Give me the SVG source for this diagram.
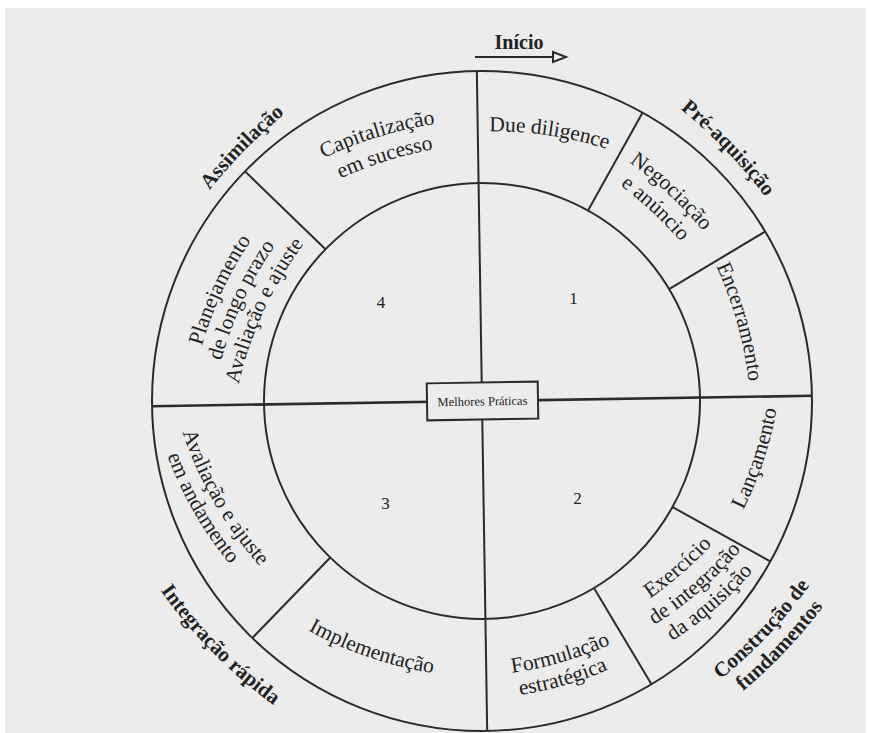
<svg xmlns="http://www.w3.org/2000/svg" width="869" height="733" viewBox="0 0 869 733">
<defs>
<style>
.ln{stroke:#2b2b2b;stroke-width:2;fill:none}
.t{font-family:"Liberation Serif","Times New Roman",serif;font-size:21.5px;fill:#222;text-anchor:middle}
.b{font-family:"Liberation Serif","Times New Roman",serif;font-size:21px;font-weight:bold;fill:#222;text-anchor:middle}
.n{font-family:"Liberation Serif","Times New Roman",serif;font-size:17px;fill:#222;text-anchor:middle}
.s{font-family:"Liberation Serif","Times New Roman",serif;font-size:12.5px;fill:#222;text-anchor:middle}
</style>
<path id="fr" d="M-244.3,88.9 A380,380 0 0 1 244.3,88.9"/>
<path id="sm" d="M-244.3,-88.9 A380,380 0 0 0 244.3,-88.9"/>
<path id="fr5" d="M-250,67 A500,500 0 0 1 250,67"/>
<path id="sm5" d="M-250,-67 A500,500 0 0 0 250,-67"/>
</defs>
<rect x="0" y="0" width="869" height="733" fill="#ffffff"/>
<rect x="5" y="8" width="861" height="725" fill="#ececec"/>

<g id="ring" class="ln">
<circle cx="482" cy="401" r="330"/>
<circle cx="482" cy="401" r="218"/>
</g>

<g id="connectors" class="ln" transform="rotate(-0.9 482 401)">
<line x1="482" y1="71" x2="482" y2="731"/>
<line x1="152" y1="401" x2="812" y2="401" style="stroke-width:2.6"/>
<line x1="591" y1="212.2" x2="647" y2="115.2"/>
<line x1="670.8" y1="292" x2="767.8" y2="236"/>
<line x1="670.8" y1="510" x2="767.8" y2="566"/>
<line x1="591" y1="589.8" x2="647" y2="686.8"/>
<line x1="327.9" y1="555.1" x2="248.7" y2="634.3"/>
<line x1="327.9" y1="246.9" x2="248.7" y2="167.7"/>
</g>

<g id="inicio">
<line class="ln" x1="475" y1="57" x2="553" y2="57"/>
<polygon class="ln" points="553,52 566,57 553,62"/>
<text class="b" x="519" y="49" style="font-size:20px">Início</text>
</g>

<g id="melhores-praticas" transform="rotate(-0.9 482 401)">
<rect class="ln" x="427" y="382.5" width="111" height="37" fill="#ececec" style="fill:#ececec"/>
<text class="s" x="482.5" y="405.5">Melhores Práticas</text>
</g>

<g id="quadrant-numbers">
<text class="n" x="573.5" y="304">1</text>
<text class="n" x="577.5" y="504">2</text>
<text class="n" x="385.5" y="509">3</text>
<text class="n" x="381" y="308">4</text>
</g>

<g id="pre-aquisicao">
<text class="b" transform="translate(725.7 150.5) rotate(46)"><textPath href="#fr5" startOffset="50%">Pré-aquisição</textPath></text>
<text class="t" transform="translate(549 135.5) rotate(8.5)"><textPath href="#fr" startOffset="50%">Due diligence</textPath></text>
<text class="t" transform="translate(668.5 194.3) rotate(43)"><textPath href="#fr" startOffset="50%">Negociação</textPath></text>
<text class="t" transform="translate(652 212) rotate(43)"><textPath href="#fr" startOffset="50%">e anúncio</textPath></text>
<text class="t" transform="translate(737 322.5) rotate(74.3)"><textPath href="#fr" startOffset="50%">Encerramento</textPath></text>
</g>

<g id="construcao-de-fundamentos">
<text class="b" transform="translate(768.1 635.3) rotate(-46.5)"><textPath href="#sm5" startOffset="50%">Construção de</textPath></text>
<text class="b" transform="translate(785.6 651) rotate(-46.5)"><textPath href="#sm5" startOffset="50%">fundamentos</textPath></text>
<text class="t" transform="translate(763.4 460.8) rotate(-71.7)"><textPath href="#sm" startOffset="50%">Lançamento</textPath></text>
<text class="t" transform="translate(682.4 573) rotate(-41)"><textPath href="#sm" startOffset="50%">Exercício</textPath></text>
<text class="t" transform="translate(700.4 590.5) rotate(-41)"><textPath href="#sm" startOffset="50%">de integração</textPath></text>
<text class="t" transform="translate(715 608.9) rotate(-41)"><textPath href="#sm" startOffset="50%">da aquisição</textPath></text>
<text class="t" transform="translate(562.3 662) rotate(-16)"><textPath href="#sm" startOffset="50%">Formulação</textPath></text>
<text class="t" transform="translate(564.8 685) rotate(-16)"><textPath href="#sm" startOffset="50%">estratégica</textPath></text>
</g>

<g id="integracao-rapida">
<text class="b" transform="translate(212.4 652.4) rotate(45.4)"><textPath href="#sm5" startOffset="50%">Integração rápida</textPath></text>
<text class="t" transform="translate(368.6 657.1) rotate(18.9)"><textPath href="#sm" startOffset="50%">Implementação</textPath></text>
<text class="t" transform="translate(214.5 503.3) rotate(60)"><textPath href="#sm" startOffset="50%">Avaliação e ajuste</textPath></text>
<text class="t" transform="translate(194.2 512.6) rotate(60)"><textPath href="#sm" startOffset="50%">em andamento</textPath></text>
</g>

<g id="assimilacao">
<text class="b" transform="translate(245 150) rotate(-45.5)"><textPath href="#fr5" startOffset="50%">Assimilação</textPath></text>
<text class="t" transform="translate(378 137) rotate(-17)"><textPath href="#fr" startOffset="50%">Capitalização</textPath></text>
<text class="t" transform="translate(386 161) rotate(-17.5)"><textPath href="#fr" startOffset="50%">em sucesso</textPath></text>
<text class="t" transform="translate(222.4 291.2) rotate(-65)"><textPath href="#fr" startOffset="50%">Planejamento</textPath></text>
<text class="t" transform="translate(243.2 300.9) rotate(-65)"><textPath href="#fr" startOffset="50%">de longo prazo</textPath></text>
<text class="t" transform="translate(264 310.6) rotate(-65)"><textPath href="#fr" startOffset="50%">Avaliação e ajuste</textPath></text>
</g>
</svg>
